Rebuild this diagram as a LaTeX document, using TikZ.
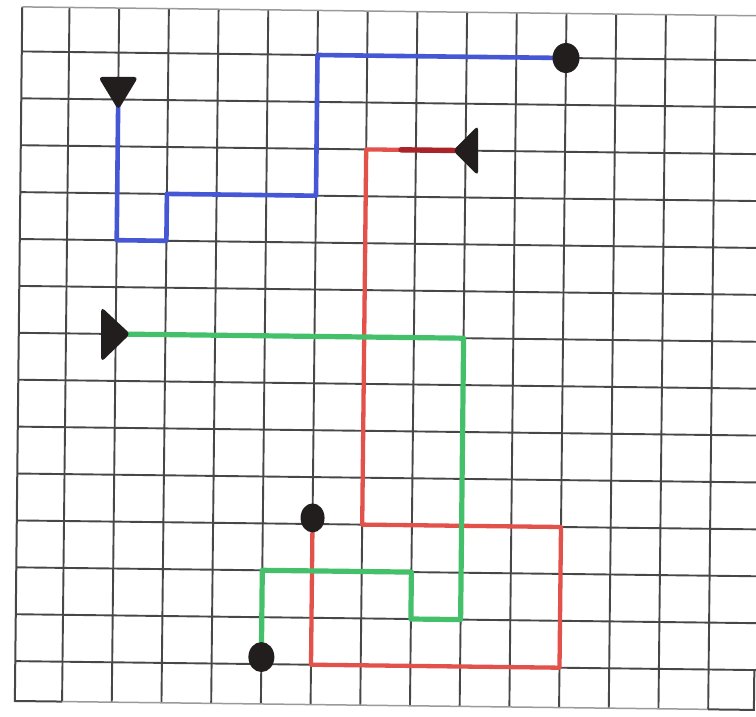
\documentclass[tikz,border=0pt]{standalone}
\usetikzlibrary{shapes.geometric}
\definecolor{gridc}{HTML}{474747}
\definecolor{gridlight}{HTML}{9A9A9A}
\definecolor{bluepen}{HTML}{4657D6}
\definecolor{redpen}{HTML}{E2514A}
\definecolor{darkred}{HTML}{A82428}
\definecolor{greenpen}{HTML}{45C06A}
\definecolor{ink}{HTML}{231E1E}
\tikzset{
  gridline/.style={draw=gridc, line width=1.9pt},
  borderline/.style={draw=gridc, line width=2pt},
  faintline/.style={draw=gridlight, line width=1.5pt},
  pen/.style={line width=4.6pt, line join=round, line cap=round},
  dotmark/.style={ellipse, fill=ink, inner sep=0pt, minimum width=27pt, minimum height=30pt},
  trimark/.style={fill=ink, rounded corners=4pt}
}
\begin{document}
\begin{tikzpicture}[x=1pt,y={(0pt,-1pt)}]
\useasboundingbox (0,0) rectangle (756,717);
\fill[white] (0,0) rectangle (756,717);
\begin{scope}
\clip (0,0) rectangle (756,717);
% grid in slightly rotated frame: (i,j) = column, row (row downward)
\begin{scope}[shift={(69pt,-52pt)}, x={(49.7pt,-0.6pt)}, y={(-0.5pt,-46.9pt)}]
  \foreach \i in {0,...,13} \draw[gridline] (\i,-0.95) -- (\i,13.85);
  \foreach \j in {0,...,13} \draw[gridline] (-0.95,\j) -- (14.6,\j);
  % borders
  \draw[borderline] (-0.95,-0.95) -- (-0.95,13.85) -- (0,13.85);
  \draw[faintline] (-0.95,-0.95) -- (14.6,-0.95);
  \draw[faintline] (0,13.85) -- (13,13.85);
  \draw[borderline] (13,13.85) -- (13.92,13.85) -- (13.92,13);
  % marker positions
  \coordinate (bS) at (1,0.86);
  \coordinate (rS) at (8.05,2);
  \coordinate (gS) at (0.93,6);
  % pen paths
  \draw[pen, bluepen] (bS) -- (1,4) -- (2,4) -- (2,3) -- (5,3) -- (5,0) -- (10,0);
  \draw[pen, redpen, line width=4.3pt] (rS) -- (6,2) -- (6,10) -- (10,10) -- (10,13) -- (5,13) -- (5,9.87);
  \draw[pen, darkred, line width=5.4pt] (6.7,2) -- (rS);
  \draw[pen, greenpen, line width=5.2pt] (gS) -- (8,6) -- (8,12) -- (7,12) -- (7,11) -- (4,11) -- (4,12.85);
  % end dots
  \node[dotmark] (bE) at (10,0) {};
  \node[dotmark, minimum width=24pt, minimum height=29pt] (rE) at (5,9.87) {};
  \node[dotmark, minimum width=26pt, minimum height=30pt] (gE) at (4,12.85) {};
\end{scope}
% triangle markers (pixel units)
\fill[trimark, shift={(bS)}] (-20,-16) -- (20,-16) -- (0,17) -- cycle;
\fill[trimark, shift={(rS)}] (10,-25) -- (10,25) -- (-15,0) -- cycle;
\fill[trimark, shift={(gS)}] (-11,-27) -- (-11,28) -- (18,0) -- cycle;
\end{scope}
\end{tikzpicture}
\end{document}
